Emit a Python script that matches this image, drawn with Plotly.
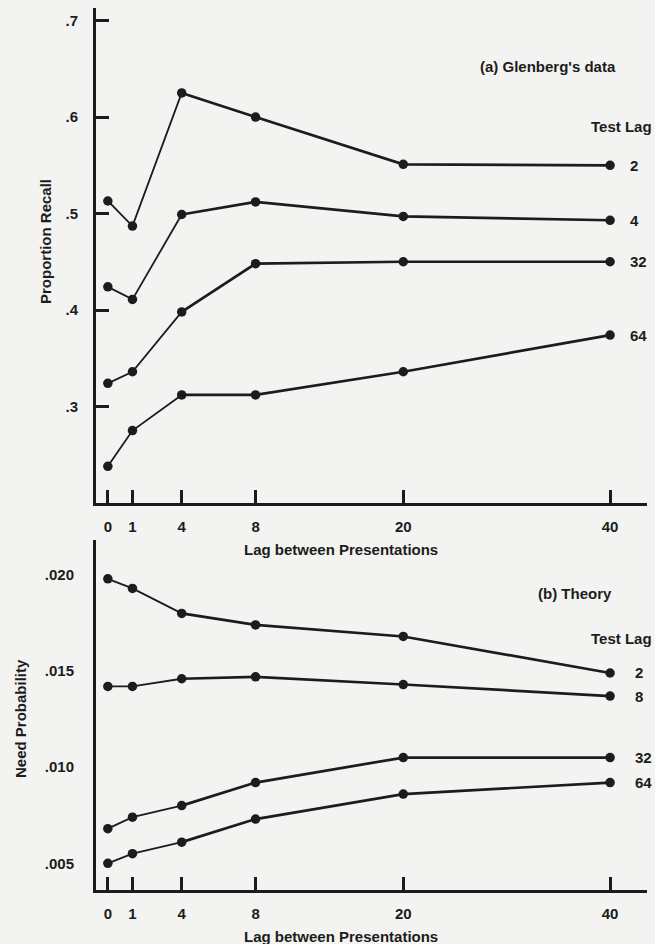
import plotly.graph_objects as go

# ---- data ----
lags = [0, 1, 4, 8, 20, 40]
lag_axis_pos = [0, 1, 3, 6, 12, 20.4]   # spacing used by the original hand-drawn lag axis
lag_labels = ["0", "1", "4", "8", "20", "40"]

recall_test_lags = ["2", "4", "32", "64"]
recall_2 = [0.513, 0.487, 0.625, 0.600, 0.551, 0.550]
recall_4 = [0.424, 0.411, 0.499, 0.512, 0.497, 0.493]
recall_32 = [0.324, 0.336, 0.398, 0.448, 0.450, 0.450]
recall_64 = [0.238, 0.275, 0.312, 0.312, 0.336, 0.374]

need_test_lags = ["2", "8", "32", "64"]
need_2 = [0.0198, 0.0193, 0.0180, 0.0174, 0.0168, 0.0149]
need_8 = [0.0142, 0.0142, 0.0146, 0.0147, 0.0143, 0.0137]
need_32 = [0.0068, 0.0074, 0.0080, 0.0092, 0.0105, 0.0105]
need_64 = [0.0050, 0.0055, 0.0061, 0.0073, 0.0086, 0.0092]

recall_ticks = [0.3, 0.4, 0.5, 0.6, 0.7]
recall_tick_labels = [".3", ".4", ".5", ".6", ".7"]
need_ticks = [0.005, 0.010, 0.015, 0.020]
need_tick_labels = [".005", ".010", ".015", ".020"]

INK = "#1c1c1c"
BG = "#f3f3f1"
FONT = "Liberation Sans"
FS = 15

fig = go.Figure()


def add_series(vals, xa, ya):
    # early segments (lags 0-4) drawn lighter, later segments heavier, as in the original
    fig.add_trace(go.Scatter(x=lag_axis_pos[:3], y=vals[:3], mode="lines",
                             line=dict(color=INK, width=1.8), xaxis=xa, yaxis=ya,
                             showlegend=False, hoverinfo="skip"))
    fig.add_trace(go.Scatter(x=lag_axis_pos[2:], y=vals[2:], mode="lines",
                             line=dict(color=INK, width=2.7), xaxis=xa, yaxis=ya,
                             showlegend=False, hoverinfo="skip"))
    fig.add_trace(go.Scatter(x=lag_axis_pos, y=vals, mode="markers",
                             marker=dict(color=INK, size=9.5), xaxis=xa, yaxis=ya,
                             showlegend=False))


recall_series = [recall_2, recall_4, recall_32, recall_64]
need_series = [need_2, need_8, need_32, need_64]

for s in recall_series:
    add_series(s, "x", "y")
for s in need_series:
    add_series(s, "x2", "y2")

tickfont = dict(family=FONT, size=FS, color=INK)
common_x = dict(domain=[0.1466, 0.9878], range=[-0.48, 21.9], showline=True, linewidth=3,
                linecolor=INK, ticks="inside", ticklen=13, tickwidth=3, tickcolor=INK,
                tickvals=lag_axis_pos, ticktext=[f"<b>{t}</b>" for t in lag_labels],
                showgrid=False, zeroline=False, tickfont=tickfont, ticklabelstandoff=8)

fig.update_layout(
    width=655, height=944,
    margin=dict(l=0, r=0, t=0, b=0),
    paper_bgcolor=BG, plot_bgcolor=BG,
    showlegend=False,
    xaxis=dict(anchor="y", **common_x),
    yaxis=dict(domain=[0.4672, 0.9915], range=[0.2, 0.713], showline=True, linewidth=3,
               linecolor=INK, ticks="inside", ticklen=13, tickwidth=3, tickcolor=INK,
               tickvals=recall_ticks, ticktext=[f"<b>{t}</b>" for t in recall_tick_labels],
               showgrid=False, zeroline=False, tickfont=tickfont, ticklabelstandoff=12),
    xaxis2=dict(anchor="y2", **common_x),
    yaxis2=dict(domain=[0.0572, 0.428], range=[0.00361, 0.02182], showline=True, linewidth=3,
                linecolor=INK, ticks="", tickvals=need_ticks,
                ticktext=[f"<b>{t}</b>" for t in need_tick_labels],
                showgrid=False, zeroline=False, tickfont=tickfont, ticklabelstandoff=16),
)

ann_font = dict(family=FONT, size=FS, color=INK)
anns = []


def text(x, y, t, angle=0, xanchor="center"):
    anns.append(dict(x=x, y=y, xref="paper", yref="paper", text=f"<b>{t}</b>", showarrow=False,
                     font=ann_font, textangle=angle, xanchor=xanchor, yanchor="middle"))


text(0.8366, 0.9293, "(a) Glenberg's data")
text(0.949, 0.8658, "Test Lag")
text(0.8779, 0.3715, "(b) Theory")
text(0.949, 0.3231, "Test Lag")
text(0.0687, 0.7447, "Proportion Recall", angle=-90)
text(0.0305, 0.2394, "Need Probability", angle=-90)
text(0.5206, 0.4174, "Lag between Presentations")
text(0.5206, 0.0077, "Lag between Presentations")

for lab, s in zip(recall_test_lags, recall_series):
    anns.append(dict(x=lag_axis_pos[-1], y=s[-1], xref="x", yref="y", text=f"<b>{lab}</b>",
                     showarrow=False, font=ann_font, xanchor="left", xshift=18))
for lab, s in zip(need_test_lags, need_series):
    anns.append(dict(x=lag_axis_pos[-1], y=s[-1], xref="x2", yref="y2", text=f"<b>{lab}</b>",
                     showarrow=False, font=ann_font, xanchor="left", xshift=23))

fig.update_layout(annotations=anns)
fig.write_html("out.html")
